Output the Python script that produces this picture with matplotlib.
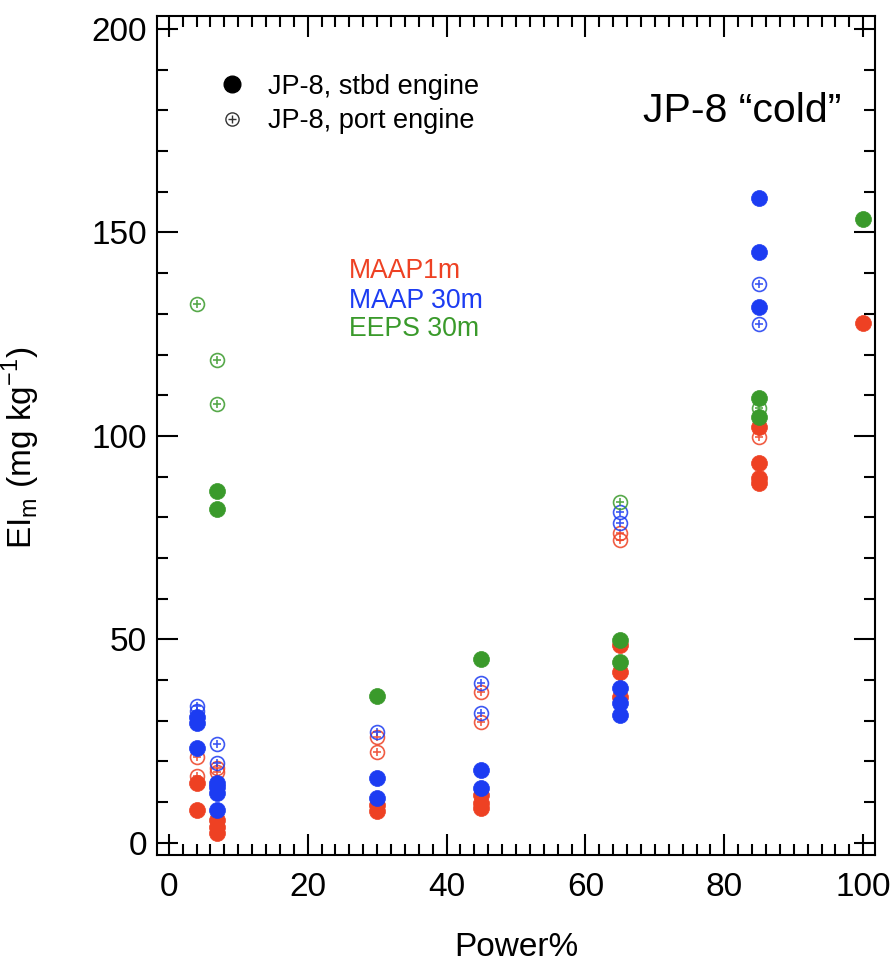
import matplotlib
matplotlib.use("Agg")
import matplotlib.pyplot as plt
from matplotlib.lines import Line2D
from matplotlib.legend_handler import HandlerTuple
from matplotlib.ticker import MultipleLocator

plt.rcParams['font.family'] = ['Liberation Sans', 'DejaVu Sans']
plt.rcParams['mathtext.fontset'] = 'custom'
plt.rcParams['mathtext.rm'] = 'Liberation Sans'

red = '#EE4123'
blue = '#1C3CF2'
green = '#3A9A2B'

# MAAP1m (red)
maap1_stbd_x = [4, 4, 7, 7, 7, 30, 30, 45, 45, 45, 65, 65, 65, 85, 85, 85, 85, 100]
maap1_stbd_y = [14.7, 8.1, 5.6, 3.9, 2.5, 9.3, 7.7, 11.8, 9.8, 8.6, 48.6, 42.0, 35.9,
                102.2, 93.4, 89.7, 88.5, 127.8]
maap1_port_x = [4, 4, 7, 7, 30, 30, 45, 45, 65, 65, 85]
maap1_port_y = [21.2, 16.3, 18.4, 17.4, 26.0, 22.4, 37.1, 29.7, 76.2, 74.4, 99.8]

# MAAP 30m (blue)
maap30_stbd_x = [4, 4, 4, 7, 7, 7, 7, 30, 30, 45, 45, 65, 65, 65, 85, 85, 85]
maap30_stbd_y = [31.0, 29.5, 23.3, 14.7, 13.8, 12.3, 8.1, 16.0, 11.0, 17.9, 13.5,
                 38.1, 34.4, 31.4, 158.5, 145.2, 131.7]
maap30_port_x = [4, 4, 7, 7, 30, 45, 45, 65, 65, 85, 85]
maap30_port_y = [33.5, 32.5, 24.3, 19.6, 27.3, 39.3, 31.9, 81.4, 78.6, 137.3, 127.5]

# EEPS 30m (green)
eeps_stbd_x = [7, 7, 30, 45, 65, 65, 85, 85, 100]
eeps_stbd_y = [86.5, 82.1, 36.1, 45.2, 49.9, 44.5, 109.3, 104.7, 153.3]
eeps_port_x = [4, 7, 7, 65, 85]
eeps_port_y = [132.4, 118.7, 107.9, 83.8, 106.9]

fig = plt.figure(figsize=(8.9, 9.65), dpi=100)
ax = fig.add_axes([157 / 890, 110 / 965, 718 / 890, 839 / 965])

# port engine: open circle with a plus
for xs, ys, c in [(maap1_port_x, maap1_port_y, red),
                  (maap30_port_x, maap30_port_y, blue),
                  (eeps_port_x, eeps_port_y, green)]:
    ax.plot(xs, ys, 'o', ms=10, mfc='none', mec=c, mew=1.2, alpha=0.85)
    ax.plot(xs, ys, '+', ms=6, mec=c, mew=1.2, alpha=0.85)

# stbd engine: filled circles
for xs, ys, c in [(maap1_stbd_x, maap1_stbd_y, red),
                  (maap30_stbd_x, maap30_stbd_y, blue),
                  (eeps_stbd_x, eeps_stbd_y, green)]:
    ax.plot(xs, ys, 'o', ms=11.5, mfc=c, mec=c, mew=0.5)

ax.set_xlim(-1.7, 101.7)
ax.set_ylim(-3, 203.2)
ax.xaxis.set_major_locator(MultipleLocator(20))
ax.xaxis.set_minor_locator(MultipleLocator(2))
ax.yaxis.set_major_locator(MultipleLocator(50))
ax.yaxis.set_minor_locator(MultipleLocator(10))
ax.tick_params(which='both', direction='in', top=True, right=True, width=1.5)
ax.tick_params(which='major', length=15, labelsize=24)
ax.tick_params(which='minor', length=8)
ax.tick_params(axis='y', which='major', pad=7)
ax.tick_params(axis='x', which='major', pad=12)
for s in ax.spines.values():
    s.set_linewidth(1.5)

ax.set_xlabel('Power%', fontsize=24)
ax.xaxis.set_label_coords(0.5, -0.092)
ax.set_ylabel(r'EI$_\mathregular{m}$ (mg kg$^\mathregular{-1}$)', fontsize=24)
ax.yaxis.set_label_coords(-0.16, 0.486)

# legend
h_stbd = Line2D([], [], ls='none', marker='o', ms=12, mfc='black', mec='black')
h_port_c = Line2D([], [], ls='none', marker='o', ms=9.5, mfc='none', mec='#333333', mew=1)
h_port_p = Line2D([], [], ls='none', marker='+', ms=5.5, mec='#333333', mew=1)
ax.legend([h_stbd, (h_port_c, h_port_p)],
          ['JP-8, stbd engine', 'JP-8, port engine'],
          handler_map={tuple: HandlerTuple(ndivide=1, pad=0)},
          loc='upper left', bbox_to_anchor=(0.0857, 0.931), frameon=False,
          fontsize=19.5, handlelength=1.0, handletextpad=0.83,
          borderpad=0, borderaxespad=0, labelspacing=0.3)

ax.text(0.677, 0.874, 'JP-8 \u201ccold\u201d', transform=ax.transAxes,
        fontsize=29.5, ha='left', va='baseline')
ax.text(0.267, 0.688, 'MAAP1m', color=red, transform=ax.transAxes,
        fontsize=19.2, ha='left', va='baseline')
ax.text(0.267, 0.652, 'MAAP 30m', color=blue, transform=ax.transAxes,
        fontsize=19.2, ha='left', va='baseline')
ax.text(0.267, 0.619, 'EEPS 30m', color=green, transform=ax.transAxes,
        fontsize=19.2, ha='left', va='baseline')

fig.savefig('out.png', dpi=100)
